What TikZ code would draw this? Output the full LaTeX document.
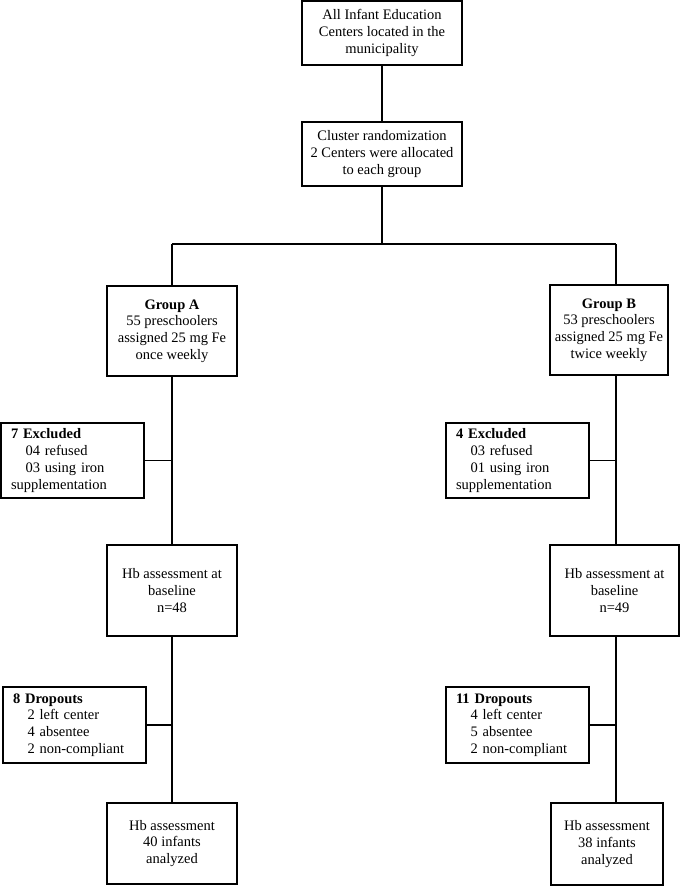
\documentclass[tikz,border=0pt]{standalone}
\usepackage{fontspec}
\setmainfont{Liberation Serif}

\begin{document}
\begin{tikzpicture}[x=1pt, y=-1pt, line width=1.1pt,
		every node/.style={font=\fontsize{14.5}{16.7}\selectfont},
		box/.style={draw, rectangle, align=center, inner sep=2pt},
		sidebox/.style={draw, rectangle, align=left, inner xsep=10pt, text width=123pt, minimum height=75pt}
		]
	\useasboundingbox (0,0) rectangle (681,895);
	\node [box, minimum width=160pt, minimum height=64pt] (all) at (382,33) {All Infant Education\\Centers located in the\\municipality};
	\node [box, minimum width=160pt, minimum height=64pt] (rand) at (382,154) {Cluster randomization\\2 Centers were allocated\\to each group};
	\coordinate (split) at (382,244);
	\coordinate (colA) at (172,244);
	\coordinate (colB) at (616,244);
	\node [box, minimum width=130pt, minimum height=90pt] (gA) at (172,331) {\textbf{Group A}\\55 preschoolers\\assigned 25 mg Fe\\once weekly};
	\node [box, minimum width=118pt, minimum height=90pt] (gB) at (609,330) {\textbf{Group B}\\53 preschoolers\\assigned 25 mg Fe\\twice weekly};
	\node [sidebox] (exA) at (72.5,460.5) {\textbf{7 Excluded}\\\hspace*{1em}04 refused\\\hspace*{1em}03 using iron\\supplementation};
	\node [sidebox] (exB) at (517.5,460.5) {\textbf{4 Excluded}\\\hspace*{1em}03 refused\\\hspace*{1em}01 using iron\\supplementation};
	\node [box, minimum width=130pt, minimum height=91pt] (hbA) at (172,590.5) {Hb assessment at\\baseline\\n=48};
	\node [box, minimum width=129pt, minimum height=91pt] (hbB) at (614.5,590.5) {Hb assessment at\\baseline\\n=49};
	\node [sidebox, minimum height=76pt] (dropA) at (74.5,725) {\textbf{8 Dropouts}\\\hspace*{1em}2 left center\\\hspace*{1em}4 absentee\\\hspace*{1em}2 non-compliant};
	\node [sidebox, minimum height=76pt] (dropB) at (517.5,725) {\textbf{11 Dropouts}\\\hspace*{1em}4 left center\\\hspace*{1em}5 absentee\\\hspace*{1em}2 non-compliant};
	\node [box, minimum width=130pt, minimum height=81pt] (finA) at (172,843.5) {Hb assessment\\40 infants\\analyzed};
	\node [box, minimum width=112pt, minimum height=82pt] (finB) at (607,844) {Hb assessment\\38 infants\\analyzed};

	\draw (all) -- (rand);
	\draw (rand) -- (split);
	\draw (colA) -- (colB);
	\draw (colA) -- (gA.north);
	\draw (colB) -- (gB.north -| colB);
	\draw (gA) -- (hbA);
	\draw (gB.south -| colB) -- (hbB.north -| colB);
	\draw (hbA) -- (finA);
	\draw (hbB.south -| colB) -- (finB.north -| colB);
	\draw (exA.east) -- (exA.east -| colA);
	\draw (exB.east) -- (exB.east -| colB);
	\draw (dropA.east) -- (dropA.east -| colA);
	\draw (dropB.east) -- (dropB.east -| colB);
\end{tikzpicture}
\end{document}
